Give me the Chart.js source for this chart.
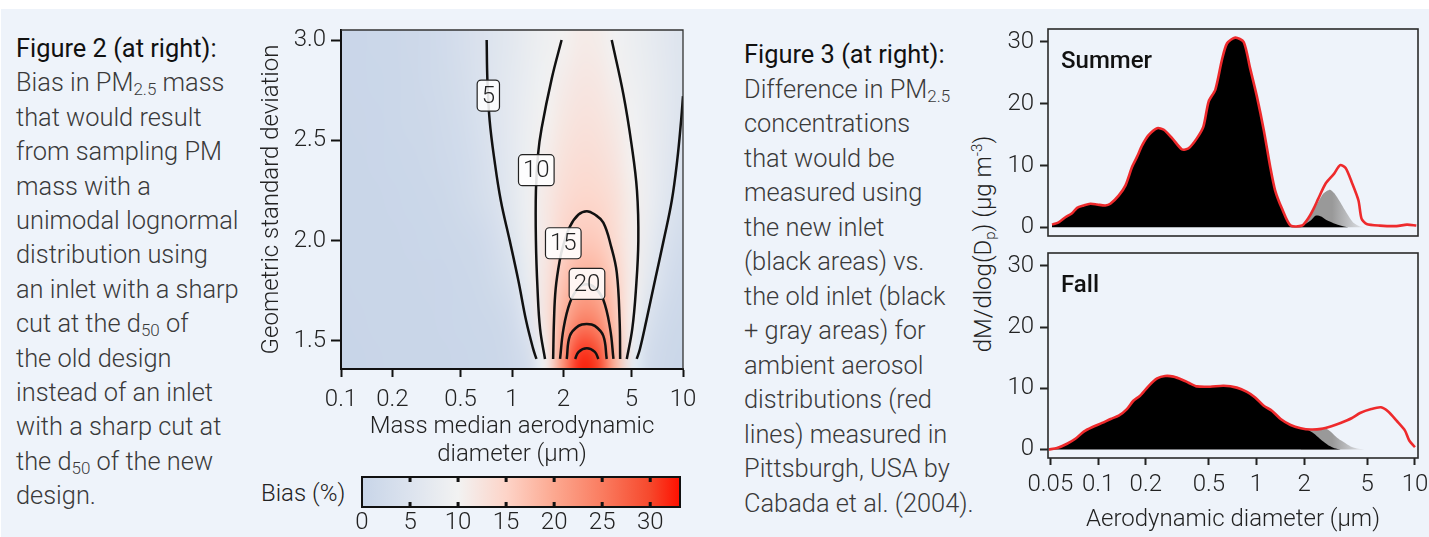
<!DOCTYPE html>
<html>
<head>
<meta charset="utf-8">
<script src="https://cdn.jsdelivr.net/npm/chart.js@4.4.1/dist/chart.umd.min.js"></script>
<style>
  html, body { margin: 0; padding: 0; background: #fff; }
  body { width: 1429px; height: 537px; position: relative; overflow: hidden; font-family: Roboto, sans-serif; color: #333; }
  #panel { position: absolute; left: 1px; top: 9px; width: 1428px; height: 528px; background: #eef3fa; }
  canvas { position: absolute; }
  .txt { position: absolute; font-size: 25.4px; font-weight: 300; white-space: nowrap; color: #3a3a3a; }
  .txt .hd { font-weight: 400; color: #111; }
  sub { font-size: 17px; vertical-align: -4px; line-height: 0; }
  #biasLbl { position: absolute; left: 261px; top: 477px; font-size: 24px; font-weight: 300; line-height: 32px; color: #222; }
  #dmTitle { position: absolute; left: 983px; top: 244px; transform: translate(-50%, -50%) rotate(-90deg); font-size: 24px; font-weight: 300; white-space: nowrap; color: #222; }
  #dmTitle sub { font-size: 15px; vertical-align: -4px; }
  #dmTitle sup { font-size: 15px; vertical-align: 9px; line-height: 0; }
</style>
</head>
<body>
<div id="panel"></div>

<div class="txt" style="left:16px;top:31px;line-height:34.4px">
<span class="hd">Figure 2 (at right):</span><br>
Bias in PM<sub>2.5</sub> mass<br>
that would result<br>
from sampling PM<br>
mass with a<br>
unimodal lognormal<br>
distribution using<br>
an inlet with a sharp<br>
cut at the d<sub>50</sub> of<br>
the old design<br>
instead of an inlet<br>
with a sharp cut at<br>
the d<sub>50</sub> of the new<br>
design.
</div>

<div class="txt" style="left:744px;top:37px;line-height:34.5px">
<span class="hd">Figure 3 (at right):</span><br>
Difference in PM<sub>2.5</sub><br>
concentrations<br>
that would be<br>
measured using<br>
the new inlet<br>
(black areas) vs.<br>
the old inlet (black<br>
+ gray areas) for<br>
ambient aerosol<br>
distributions (red<br>
lines) measured in<br>
Pittsburgh, USA by<br>
Cabada et al. (2004).
</div>

<div id="biasLbl">Bias (%)</div>
<div id="dmTitle">dM/dlog(D<sub>p</sub>) (µg m<sup>-3</sup>)</div>

<canvas id="contour" width="450" height="450" style="left:250px;top:20px"></canvas>
<canvas id="cbar" width="345" height="72" style="left:355px;top:465px"></canvas>
<canvas id="summer" width="439" height="230" style="left:990px;top:20px"></canvas>
<canvas id="fall" width="439" height="292" style="left:990px;top:245px"></canvas>

<script>
// ---------- Figure 2: bias (%) ----------
// columns: log10 of mass median aerodynamic diameter (um)
var biasLogX = [-1.0, -0.9, -0.8, -0.7, -0.6, -0.5, -0.4, -0.3, -0.2, -0.1, 0.0,
                0.1, 0.2, 0.3, 0.4, 0.5, 0.6, 0.7, 0.8, 0.9, 1.0];
// rows: geometric standard deviation, top row first
var biasSigma = [3.0, 2.8, 2.6, 2.4, 2.2, 2.0, 1.8, 1.6, 1.4];
var bias30 = [0.45, 0.5, 0.65, 0.85, 1.15, 1.6, 2.3, 3.2, 4.4, 5.55, 6.7, 7.85, 9.0, 10.2, 11.2, 11.05, 9.8, 8.65, 7.5, 6.35, 5.2];
var bias28 = [0.4, 0.45, 0.55, 0.75, 1.0, 1.4, 2.0, 2.9, 4.2, 5.6, 6.9, 8.25, 9.55, 11.1, 11.95, 11.8, 10.6, 9.15, 7.85, 6.5, 5.2];
var bias26 = [0.35, 0.4, 0.5, 0.65, 0.9, 1.2, 1.7, 2.5, 3.8, 5.4, 7.0, 8.6, 10.3, 11.9, 12.65, 12.5, 11.5, 9.7, 8.1, 6.5, 4.9];
var bias24 = [0.3, 0.35, 0.45, 0.55, 0.75, 1.0, 1.4, 2.1, 3.3, 4.95, 6.9, 8.9, 11.0, 12.7, 13.45, 13.3, 12.3, 10.4, 8.3, 6.3, 4.4];
var bias22 = [0.25, 0.3, 0.35, 0.45, 0.6, 0.8, 1.1, 1.7, 2.7, 4.3, 6.6, 9.0, 11.7, 13.6, 14.5, 14.4, 13.2, 10.9, 8.3, 5.9, 3.8];
var bias20 = [0.2, 0.25, 0.3, 0.35, 0.45, 0.55, 0.7, 1.0, 1.6, 3.0, 5.55, 8.8, 11.8, 14.8, 16.2, 16.0, 13.9, 11.0, 7.8, 4.6, 2.5];
var bias18 = [0.15, 0.2, 0.25, 0.3, 0.35, 0.4, 0.5, 0.65, 0.95, 2.0, 3.8, 7.85, 12.3, 16.9, 19.4, 19.0, 15.6, 11.0, 6.5, 3.2, 1.6];
var bias16 = [0.1, 0.15, 0.2, 0.25, 0.3, 0.35, 0.45, 0.55, 0.7, 1.1, 2.2, 5.8, 12.4, 19.3, 24.2, 23.3, 17.1, 10.4, 4.2, 1.7, 0.95];
var bias14 = [0.1, 0.1, 0.15, 0.2, 0.2, 0.3, 0.35, 0.5, 0.6, 0.7, 1.4, 3.3, 10.5, 22.7, 32.0, 30.4, 18.9, 7.6, 2.6, 1.2, 0.6];
var biasGrid = [bias30, bias28, bias26, bias24, bias22, bias20, bias18, bias16, bias14];

// contour lines [MMAD um, sigma]
var contour5L = [[0.711, 3.0], [0.718, 2.8], [0.74, 2.6], [0.79, 2.4], [0.86, 2.2], [0.97, 2.0], [1.09, 1.8], [1.21, 1.6], [1.33, 1.46], [1.39, 1.41]];
var contour5R = [[5.36, 1.41], [5.6, 1.46], [6.1, 1.6], [6.85, 1.8], [7.7, 2.0], [8.6, 2.2], [9.25, 2.4], [9.75, 2.6], [10.0, 2.72]];
var contour10L = [[1.95, 3.0], [1.71, 2.81], [1.49, 2.56], [1.42, 2.43], [1.38, 2.25], [1.38, 2.0], [1.41, 1.76], [1.46, 1.56], [1.56, 1.41]];
var contour10R = [[4.69, 1.41], [5.05, 1.56], [5.3, 1.75], [5.48, 2.0], [5.38, 2.25], [5.0, 2.48], [4.48, 2.73], [3.83, 3.0]];
var contour15 = [[1.74, 1.41], [1.76, 1.6], [1.8, 1.76], [1.9, 1.9], [2.0, 1.98], [2.18, 2.07], [2.45, 2.13], [2.74, 2.147], [3.05, 2.13], [3.42, 2.09], [3.8, 1.97], [4.1, 1.84], [4.26, 1.6], [4.29, 1.41]];
var contour20 = [[1.91, 1.41], [2.0, 1.56], [2.18, 1.69], [2.45, 1.765], [2.74, 1.782], [3.05, 1.765], [3.42, 1.705], [3.75, 1.56], [3.92, 1.41]];
var contour25 = [[2.09, 1.41], [2.18, 1.525], [2.45, 1.575], [2.74, 1.584], [3.05, 1.575], [3.42, 1.525], [3.58, 1.41]];
var contour30 = [[2.34, 1.41], [2.45, 1.445], [2.74, 1.463], [3.05, 1.445], [3.2, 1.41]];
var contourLabels = ['5', '10', '15', '20'];
var contourLabelX = [0.727, 1.387, 1.995, 2.745];
var contourLabelY = [2.723, 2.351, 1.987, 1.784];

var mmadTicks = [0.1, 0.2, 0.5, 1, 2, 5, 10];
var sigmaTicks = [1.5, 2.0, 2.5, 3.0];
var biasTicks = [0, 5, 10, 15, 20, 25, 30];
var cmapStops = [0, 5, 10, 15, 20, 25, 30, 33.1];
var cmapColors = ['#c8d5e8', '#dce3ee', '#f2f2f2', '#fdd4c8', '#fca890', '#fa7c60', '#f6482c', '#fe1000'];

// ---------- Figure 3: dM/dlog(Dp) (ug m-3) vs Dp (um) ----------
var summerTotal = [[0.0512, 0.44], [0.0564, 0.82], [0.0622, 1.63], [0.0685, 2.28], [0.0737, 3.16], [0.0812, 3.54], [0.0894, 3.81],
  [0.0985, 3.7], [0.111, 3.54], [0.1195, 3.81], [0.1352, 5.17], [0.149, 6.8], [0.164, 9.79], [0.176, 11.4], [0.19, 13.3],
  [0.209, 14.96], [0.236, 16.05], [0.26, 15.8], [0.294, 14.4], [0.339, 12.6], [0.373, 12.8], [0.42, 14.4], [0.462, 16.3],
  [0.499, 20.4], [0.55, 22.3], [0.606, 27.2], [0.652, 29.8], [0.734, 30.7], [0.83, 30.0], [0.91, 25.8], [1.005, 21.2],
  [1.11, 15.8], [1.22, 9.8], [1.31, 6.0], [1.45, 3.0], [1.64, 0.3], [1.94, 0.3], [2.14, 1.63], [2.29, 3.0], [2.45, 4.6],
  [2.73, 7.1], [3.09, 8.7], [3.37, 10.07], [3.65, 9.6], [3.99, 7.3], [4.4, 4.35], [4.6, 1.4], [4.95, 0.55], [6.0, 0.28],
  [7.65, 0.2], [8.9, 0.44], [10.2, 0.3]];
var summerNewTail = [[1.94, 0.28], [2.2, 1.1], [2.37, 1.9], [2.56, 1.75], [2.76, 1.2], [3.16, 0.55], [3.62, 0.1], [4.0, 0]];
var summerOldTail = [[1.64, 0.3], [1.94, 0.28], [2.14, 1.5], [2.29, 2.9], [2.45, 4.1], [2.65, 5.5], [2.91, 6.1], [3.1, 5.5],
  [3.37, 4.1], [3.73, 2.2], [4.07, 0.8], [4.5, 0.15], [5.0, 0]];

var fallTotal = [[0.0488, 0], [0.0551, 0.22], [0.0637, 0.93], [0.0719, 1.74], [0.0812, 2.92], [0.0916, 3.63], [0.106, 4.33],
  [0.12, 4.98], [0.135, 5.52], [0.152, 6.6], [0.167, 7.95], [0.184, 8.77], [0.209, 10.4], [0.236, 11.6], [0.265, 12.0],
  [0.299, 11.9], [0.339, 11.4], [0.373, 10.9], [0.42, 10.3], [0.51, 10.25], [0.62, 10.4], [0.75, 10.1], [0.87, 9.4],
  [0.98, 8.5], [1.11, 7.14], [1.25, 6.33], [1.42, 4.98], [1.64, 4.0], [1.9, 3.47], [2.2, 3.25], [2.56, 3.36], [2.97, 3.8],
  [3.39, 4.33], [3.98, 5.1], [4.5, 5.95], [5.3, 6.6], [6.1, 6.88], [6.8, 6.17], [7.65, 4.7], [8.65, 3.08], [9.2, 1.46],
  [10.0, 0.38]];
var fallNewTail = [[2.1, 3.2], [2.3, 2.6], [2.5, 1.8], [2.7, 1.1], [2.9, 0.55], [3.1, 0.2], [3.4, 0]];
var fallOldTail = [[1.9, 3.47], [2.2, 3.25], [2.56, 3.36], [2.8, 3.3], [3.0, 2.7], [3.2, 2.0], [3.4, 1.5], [3.7, 0.9],
  [4.0, 0.4], [4.4, 0.1], [4.8, 0]];

var dpTicks = [0.05, 0.1, 0.2, 0.5, 1, 2, 5, 10];
var dmTicks = [0, 10, 20, 30];

var RED = '#ee2a2c';
var INK = '#111';

Chart.defaults.font.family = 'Roboto';
Chart.defaults.font.size = 24;
Chart.defaults.font.weight = '300';
Chart.defaults.color = '#222';

function hexRgb(h) {
  return [parseInt(h.substr(1, 2), 16), parseInt(h.substr(3, 2), 16), parseInt(h.substr(5, 2), 16)];
}

function biasColor(v) {
  var n = cmapStops.length;
  if (v <= cmapStops[0]) return hexRgb(cmapColors[0]);
  for (var i = 1; i < n; i++) {
    if (v <= cmapStops[i]) {
      var t = (v - cmapStops[i - 1]) / (cmapStops[i] - cmapStops[i - 1]);
      var a = hexRgb(cmapColors[i - 1]), b = hexRgb(cmapColors[i]);
      return a.map(function (c, k) { return Math.round(c + (b[k] - c) * t); });
    }
  }
  return hexRgb(cmapColors[n - 1]);
}

function fixedTicks(list) {
  return function (s) { s.ticks = list.map(function (v) { return { value: v }; }); };
}

// shaded map under the contours
var heatmapPlugin = {
  id: 'heatmap',
  beforeDraw: function (chart) {
    var ctx = chart.ctx, a = chart.chartArea, x = chart.scales.x, y = chart.scales.y;
    var nx = biasLogX.length, ny = biasSigma.length;
    var off = document.createElement('canvas');
    off.width = nx; off.height = ny;
    var octx = off.getContext('2d');
    var img = octx.createImageData(nx, ny);
    biasGrid.forEach(function (row, j) {
      row.forEach(function (v, i) {
        var c = biasColor(v), k = (j * nx + i) * 4;
        img.data[k] = c[0]; img.data[k + 1] = c[1]; img.data[k + 2] = c[2]; img.data[k + 3] = 255;
      });
    });
    octx.putImageData(img, 0, 0);
    var dx = (biasLogX[1] - biasLogX[0]) / 2, dy = (biasSigma[0] - biasSigma[1]) / 2;
    var x0 = x.getPixelForValue(Math.pow(10, biasLogX[0] - dx));
    var x1 = x.getPixelForValue(Math.pow(10, biasLogX[nx - 1] + dx));
    var y0 = y.getPixelForValue(biasSigma[0] + dy);
    var y1 = y.getPixelForValue(biasSigma[ny - 1] - dy);
    ctx.save();
    ctx.beginPath();
    ctx.rect(a.left, a.top, a.right - a.left, a.bottom - a.top);
    ctx.clip();
    ctx.imageSmoothingEnabled = true;
    ctx.imageSmoothingQuality = 'high';
    ctx.drawImage(off, x0, y0, x1 - x0, y1 - y0);
    ctx.restore();
  },
  afterDraw: function (chart) {
    var ctx = chart.ctx, a = chart.chartArea;
    ctx.save();
    ctx.strokeStyle = '#333';
    ctx.lineWidth = 1.3;
    ctx.beginPath();
    ctx.moveTo(a.left, a.top);
    ctx.lineTo(a.right, a.top);
    ctx.lineTo(a.right, a.bottom);
    ctx.stroke();
    ctx.restore();
  }
};

var contourLabelPlugin = {
  id: 'contourLabels',
  afterDatasetsDraw: function (chart) {
    var ctx = chart.ctx, x = chart.scales.x, y = chart.scales.y;
    ctx.save();
    ctx.font = '300 24px Roboto';
    ctx.textAlign = 'center';
    ctx.textBaseline = 'middle';
    contourLabels.forEach(function (t, i) {
      var px = x.getPixelForValue(contourLabelX[i]);
      var py = y.getPixelForValue(contourLabelY[i]);
      var w = ctx.measureText(t).width + 9, h = 31;
      ctx.beginPath();
      ctx.roundRect(px - w / 2, py - h / 2, w, h, 4);
      ctx.fillStyle = 'rgba(255,255,255,0.88)';
      ctx.fill();
      ctx.lineWidth = 1.2;
      ctx.strokeStyle = '#222';
      ctx.stroke();
      ctx.fillStyle = '#222';
      ctx.fillText(t, px, py + 1);
    });
    ctx.restore();
  }
};

var contourSets = [contour5L, contour5R, contour10L, contour10R, contour15, contour20, contour25, contour30];

new Chart(document.getElementById('contour'), {
  type: 'scatter',
  data: {
    datasets: contourSets.map(function (pts) {
      return { data: pts, showLine: true, borderColor: INK, borderWidth: 2.5, pointRadius: 0, tension: 0.4, fill: false };
    })
  },
  options: {
    animation: false,
    responsive: false,
    layout: { padding: { left: 0, right: 17, top: 10, bottom: 0 } },
    plugins: { legend: { display: false }, tooltip: { enabled: false } },
    scales: {
      x: {
        type: 'logarithmic', min: 0.1, max: 10,
        afterBuildTicks: fixedTicks(mmadTicks),
        ticks: { callback: function (v) { return String(v); }, padding: 9, autoSkip: false, maxRotation: 0 },
        grid: { drawOnChartArea: false, tickLength: 8, tickColor: INK, tickWidth: 2 },
        border: { color: INK, width: 2, z: 1 },
        title: { display: true, text: ['Mass median aerodynamic', 'diameter (µm)'], font: { size: 24, lineHeight: 1.17 }, padding: { top: 0, bottom: 1 } },
        afterFit: function (s) { s.height = 101; s.paddingLeft = 0; s.paddingRight = 0; }
      },
      y: {
        type: 'linear', min: 1.36, max: 3.05,
        afterBuildTicks: fixedTicks(sigmaTicks),
        ticks: { callback: function (v) { return v.toFixed(1); }, padding: 5 },
        grid: { drawOnChartArea: false, tickLength: 10, tickColor: INK, tickWidth: 2 },
        border: { color: INK, width: 2, z: 1 },
        title: { display: true, text: 'Geometric standard deviation', padding: { top: 7.6, bottom: 0 } },
        afterFit: function (s) { s.width = 91; s.paddingTop = 0; s.paddingBottom = 0; }
      }
    }
  },
  plugins: [heatmapPlugin, contourLabelPlugin]
});

// colour bar
var colorbarPlugin = {
  id: 'colorbar',
  beforeDraw: function (chart) {
    var ctx = chart.ctx, a = chart.chartArea, x = chart.scales.x;
    var max = cmapStops[cmapStops.length - 1];
    var g = ctx.createLinearGradient(x.getPixelForValue(0), 0, x.getPixelForValue(max), 0);
    cmapStops.forEach(function (s, i) { g.addColorStop(s / max, cmapColors[i]); });
    ctx.save();
    ctx.fillStyle = g;
    ctx.fillRect(a.left, a.top, a.right - a.left, a.bottom - a.top);
    ctx.fillStyle = INK;
    biasTicks.forEach(function (v) {
      if (v === 0) return;
      var px = x.getPixelForValue(v);
      ctx.fillRect(px - 1.5, a.top, 3, 5);
      ctx.fillRect(px - 1.5, a.bottom - 5, 3, 5);
    });
    ctx.strokeStyle = INK;
    ctx.lineWidth = 2;
    ctx.strokeRect(a.left, a.top, a.right - a.left, a.bottom - a.top);
    ctx.restore();
  }
};

new Chart(document.getElementById('cbar'), {
  type: 'scatter',
  data: { datasets: [] },
  options: {
    animation: false,
    responsive: false,
    layout: { padding: { left: 7, right: 20, top: 12, bottom: 0 } },
    plugins: { legend: { display: false }, tooltip: { enabled: false } },
    scales: {
      x: {
        type: 'linear', min: 0, max: cmapStops[cmapStops.length - 1],
        afterBuildTicks: fixedTicks(biasTicks),
        ticks: { padding: 2, autoSkip: false, maxRotation: 0 },
        grid: { display: false, drawTicks: false },
        border: { display: false },
        afterFit: function (s) { s.height = 30; s.paddingLeft = 0; s.paddingRight = 0; }
      },
      y: { display: false, min: 0, max: 1 }
    }
  },
  plugins: [colorbarPlugin]
});

// Figure 3 panels
function framePlugin(label) {
  return {
    id: 'frame',
    afterDraw: function (chart) {
      var ctx = chart.ctx, a = chart.chartArea;
      ctx.save();
      ctx.strokeStyle = '#2a2a2a';
      ctx.lineWidth = 1.6;
      ctx.strokeRect(a.left, a.top, a.right - a.left, a.bottom - a.top);
      ctx.font = '500 24px Roboto';
      ctx.fillStyle = INK;
      ctx.textBaseline = 'alphabetic';
      ctx.fillText(label, a.left + 13, a.top + 39);
      ctx.restore();
    }
  };
}

// gray (old inlet only) fades out towards its tail
function grayFade(ctxArg) {
  var chart = ctxArg.chart, x = chart.scales.x;
  if (!chart.chartArea) return '#999';
  var g = chart.ctx.createLinearGradient(x.getPixelForValue(3.0), 0, x.getPixelForValue(4.8), 0);
  g.addColorStop(0, '#999999');
  g.addColorStop(1, '#e2e5ea');
  return g;
}

function makePanel(id, label, total, newInlet, oldExtra, showX) {
  new Chart(document.getElementById(id), {
    type: 'line',
    data: {
      datasets: [
        { data: total, borderColor: RED, borderWidth: 2.6, fill: false, order: 1 },
        { data: newInlet, borderWidth: 0, borderColor: 'rgba(0,0,0,0)', backgroundColor: '#000', fill: 'origin', order: 2 },
        { data: oldExtra, borderWidth: 0, borderColor: 'rgba(0,0,0,0)', backgroundColor: grayFade, fill: 'origin', order: 3 }
      ]
    },
    options: {
      animation: false,
      responsive: false,
      layout: { padding: { left: 0, right: 11, top: showX ? 8 : 9, bottom: showX ? 0 : 14 } },
      elements: { point: { radius: 0 }, line: { tension: 0.25 } },
      plugins: { legend: { display: false }, tooltip: { enabled: false } },
      scales: {
        x: {
          type: 'logarithmic', min: 0.0483, max: 10.45, display: showX,
          afterBuildTicks: fixedTicks(dpTicks),
          ticks: { callback: function (v) { return String(v); }, padding: 6, autoSkip: false, maxRotation: 0 },
          grid: { drawOnChartArea: false, tickLength: 7, tickColor: '#222', tickWidth: 2 },
          border: { display: false },
          title: { display: true, text: 'Aerodynamic diameter (µm)', padding: { top: 0, bottom: 2.6 } },
          afterFit: function (s) {
            if (showX) { s.height = 79; s.paddingLeft = 0; s.paddingRight = 0; }
          }
        },
        y: {
          type: 'linear', min: -1.4, max: 32.1,
          afterBuildTicks: fixedTicks(dmTicks),
          ticks: { padding: 6 },
          grid: { drawOnChartArea: false, tickLength: 8, tickColor: '#222', tickWidth: 2 },
          border: { display: false },
          afterFit: function (s) { s.width = 58; s.paddingTop = 0; s.paddingBottom = 0; }
        }
      }
    },
    plugins: [framePlugin(label)]
  });
}

makePanel('summer', 'Summer', summerTotal,
  summerTotal.filter(function (p) { return p[0] <= 1.7; }).concat(summerNewTail), summerOldTail, false);
makePanel('fall', 'Fall', fallTotal,
  fallTotal.filter(function (p) { return p[0] <= 2.0; }).concat(fallNewTail), fallOldTail, true);
</script>
</body>
</html>
